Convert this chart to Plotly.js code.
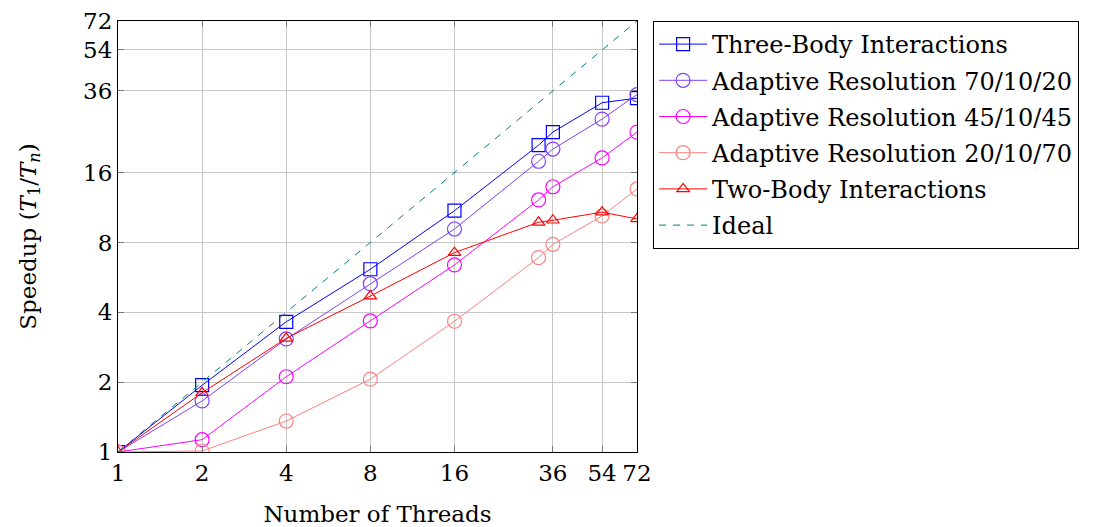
<!DOCTYPE html>
<html>
<head>
<meta charset="utf-8">
<script src="https://cdn.plot.ly/plotly-3.0.1.min.js"></script>
<style>html,body{margin:0;padding:0;background:#fff;}#chart{width:1106px;height:527px;}</style>
</head>
<body>
<div id="chart"></div>
<script>
const threads = [1, 2, 4, 8, 16, 32, 36, 54, 72];
const threeBody = [1, 1.94, 3.64, 6.13, 10.96, 21.0, 23.9, 32.0, 33.5];
const adaptive702 = [1, 1.66, 3.07, 5.31, 9.14, 17.9, 20.2, 27.2, 34.7];
const adaptive454 = [1, 1.13, 2.11, 3.67, 6.40, 12.2, 13.9, 18.5, 23.9];
const adaptive207 = [1, 1.01, 1.36, 2.06, 3.66, 6.88, 7.85, 10.4, 13.6];
const twoBody = [1, 1.80, 3.09, 4.70, 7.23, 9.77, 9.97, 10.8, 10.1];
const idealX = [1, 72];
const idealY = [1, 72];
const tickVals = [1, 2, 4, 8, 16, 36, 54, 72];
const tickText = ['1', '2', '4', '8', '16', '36', '54', '72'];
const names = ['Three-Body Interactions', 'Adaptive Resolution 70/10/20', 'Adaptive Resolution 45/10/45', 'Adaptive Resolution 20/10/70', 'Two-Body Interactions', 'Ideal'];

const FONT = 'DejaVu Serif, Liberation Serif, serif';

function series(y, name, color, symbol, size, grp) {
  return {
    x: threads, y: y, name: name, type: 'scatter', mode: 'lines+markers',
    legendgroup: grp,
    line: {color: color, width: 1},
    marker: {symbol: symbol, size: size, color: color, line: {color: color, width: 1.2}}
  };
}

const data = [
  series(threeBody, names[0], '#0000ff', 'square-open', 13, 'a'),
  series(adaptive702, names[1], '#7f3fff', 'circle-open', 14, 'b'),
  series(adaptive454, names[2], '#ff00ff', 'circle-open', 14, 'c'),
  series(adaptive207, names[3], '#ff8080', 'circle-open', 14, 'd'),
  series(twoBody, names[4], '#ff0000', 'triangle-up-open', 11, 'e'),
  {x: idealX, y: idealY, name: names[5], type: 'scatter', mode: 'lines', legendgroup: 'f',
   line: {color: '#008080', width: 1, dash: '7px,7px'}}
];

const axisCommon = {
  type: 'log',
  tickvals: tickVals, ticktext: tickText,
  showgrid: true, gridcolor: '#c8c8c8', gridwidth: 1,
  showline: true, linecolor: '#000', linewidth: 1, mirror: 'ticks',
  ticks: 'inside', ticklen: 6, tickcolor: '#777', tickwidth: 1,
  zeroline: false,
  tickfont: {family: FONT, size: 23, color: '#000'}
};

const layout = {
  width: 1106, height: 527,
  margin: {l: 118, r: 469, t: 21, b: 75, pad: 0},
  paper_bgcolor: '#fff', plot_bgcolor: '#fff',
  font: {family: FONT, size: 23, color: '#000'},
  showlegend: true,
  xaxis: Object.assign({}, axisCommon, {
    range: [0, Math.log10(72)],
    title: {text: 'Number of Threads', font: {family: FONT, size: 23}, standoff: 22}
  }),
  yaxis: Object.assign({}, axisCommon, {
    range: [0, Math.log10(72)],
    title: {text: 'Speedup (<i>T</i><sub>1</sub>/<i>T<sub>n</sub></i>)', font: {family: FONT, size: 23}, standoff: 40}
  }),
  legend: {
    x: 1.031, y: 1.0, xanchor: 'left', yanchor: 'top',
    bordercolor: '#000', borderwidth: 1, bgcolor: '#fff',
    font: {family: FONT, size: 24, color: '#000'},
    traceorder: 'grouped', tracegroupgap: 2, itemwidth: 48
  }
};

Plotly.newPlot('chart', data, layout, {staticPlot: true, displayModeBar: false});
</script>
</body>
</html>
